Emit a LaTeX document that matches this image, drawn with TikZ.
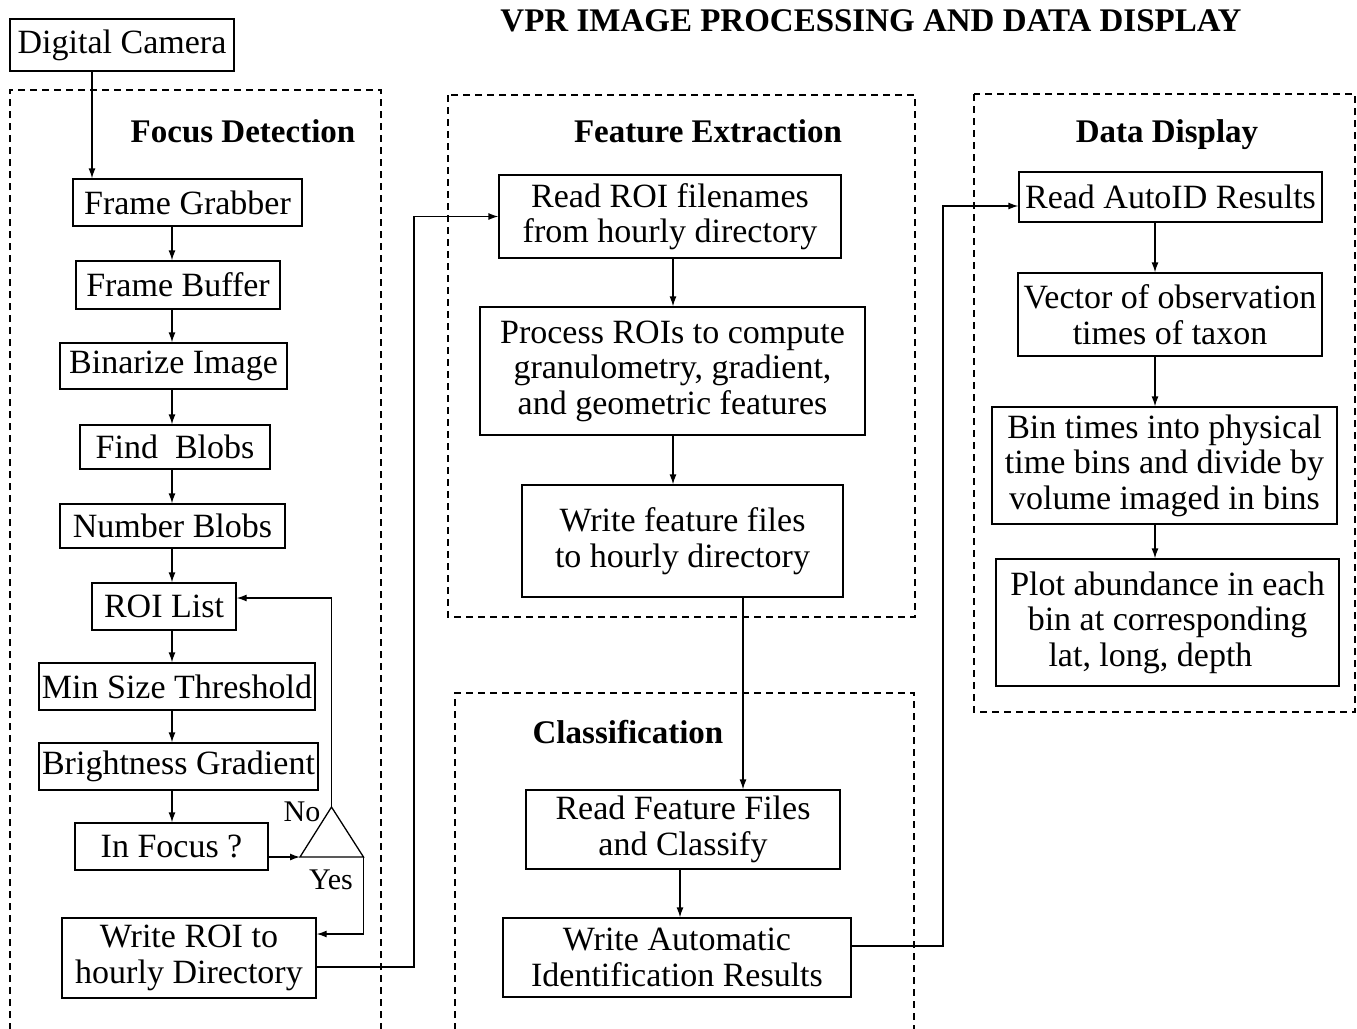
\documentclass[tikz,border=0pt]{standalone}
\usepackage{fontspec}
\setmainfont{Liberation Serif}
\usetikzlibrary{arrows.meta,calc}
\begin{document}
\begin{tikzpicture}[x=1pt,y=-1pt,
  box/.style={draw,line width=1.3pt,inner sep=0pt,align=center,font=\fontsize{34}{35.5}\selectfont},
  head/.style={font=\fontsize{33}{36}\selectfont\bfseries,inner sep=0pt,anchor=base},
  lbl/.style={font=\fontsize{30}{34}\selectfont,inner sep=0pt},
  grp/.style={draw,line width=1.2pt,dash pattern=on 7pt off 5pt},
  arr/.style={line width=1.3pt,-{Latex[length=10pt,width=7pt]}},
  ln/.style={line width=1.3pt}]
\useasboundingbox (0,0) rectangle (1357,1028);
% group frames
\draw[grp] (10,1030) -- (10,90) -- (381,90) -- (381,1030);
\draw[grp] (448,95) rectangle (915,617);
\draw[grp] (455,1030) -- (455,693) -- (914,693) -- (914,1030);
\draw[grp] (974,94) rectangle (1355,712);
% headings
\node[head] (title) at (871,31) {VPR IMAGE PROCESSING AND DATA DISPLAY};
\node[head] (hfd) at (243,142) {Focus Detection};
\node[head] (hfe) at (708,142) {Feature Extraction};
\node[head] (hcl) at (628,743) {Classification};
\node[head] (hdd) at (1167,142) {Data Display};
% left column
\node[box,minimum width=224,minimum height=52] (cam) at (122,45) {Digital Camera};
\node[box,minimum width=229,minimum height=47] (fg) at (187.5,202.5) {Frame Grabber};
\node[box,minimum width=204,minimum height=48] (fb) at (178,285) {Frame Buffer};
\node[box,minimum width=227,minimum height=46] (bin) at (173.5,366) {Binarize Image};
\node[box,minimum width=190,minimum height=44] (find) at (175,447) {Find\ \ Blobs};
\node[box,minimum width=225,minimum height=44] (num) at (172.5,526) {Number Blobs};
\node[box,minimum width=144,minimum height=47] (roi) at (164,606.5) {ROI List};
\node[box,minimum width=276,minimum height=47] (min) at (177,686.5) {Min Size Threshold};
\node[box,minimum width=279,minimum height=47] (bri) at (178.5,766.5) {Brightness Gradient};
\node[box,minimum width=193,minimum height=47] (inf) at (171.5,846.5) {In Focus ?};
\node[box,minimum width=254,minimum height=80] (wroi) at (189,958) {Write ROI to\\hourly Directory};
% decision triangle
\coordinate (tapex) at (331.5,807);
\coordinate (tleft) at (300,857);
\coordinate (tright) at (363.5,857);
\draw[ln] (tleft) -- (tapex) -- (tright) -- cycle;
\node[lbl] (no) at (302,812) {No};
\node[lbl] (yes) at (331,880) {Yes};
% middle column
\node[box,minimum width=342,minimum height=83] (rrf) at (670,216.5) {Read ROI filenames\\from hourly directory};
\node[box,minimum width=385,minimum height=128] (proc) at (672.5,371) {Process ROIs to compute\\granulometry, gradient,\\and geometric features};
\node[box,minimum width=321,minimum height=112] (wff) at (682.5,541) {Write feature files\\to hourly directory};
\node[box,minimum width=314,minimum height=79] (rfc) at (683,829.5) {Read Feature Files\\and Classify};
\node[box,minimum width=348,minimum height=79] (wai) at (677,957.5) {Write Automatic\\Identification Results};
% right column
\node[box,minimum width=303,minimum height=50] (rai) at (1170.5,197) {Read AutoID Results};
\node[box,minimum width=304,minimum height=83] (vec) at (1170,314.5) {Vector of observation\\times of taxon};
\node[box,minimum width=345,minimum height=117] (bint) at (1164.5,465.5) {Bin times into physical\\time bins and divide by\\volume imaged in bins};
\node[box,minimum width=343,minimum height=127] (plot) at (1167.5,622.5) {Plot abundance in each\\bin at corresponding\\lat, long, depth\hspace*{34pt}};
% column coordinates
\coordinate (xc) at (92,0);
\coordinate (xl) at (172,0);
\coordinate (xm) at (673,0);
\coordinate (xw) at (743,0);
\coordinate (xk) at (680,0);
\coordinate (xr) at (1155,0);
\coordinate (j1) at (414,967);
\coordinate (j2) at (943,946);
% left connectors
\draw[arr] (cam.south -| xc) -- (fg.north -| xc);
\draw[arr] (fg.south -| xl) -- (fb.north -| xl);
\draw[arr] (fb.south -| xl) -- (bin.north -| xl);
\draw[arr] (bin.south -| xl) -- (find.north -| xl);
\draw[arr] (find.south -| xl) -- (num.north -| xl);
\draw[arr] (num.south -| xl) -- (roi.north -| xl);
\draw[arr] (roi.south -| xl) -- (min.north -| xl);
\draw[arr] (min.south -| xl) -- (bri.north -| xl);
\draw[arr] (bri.south -| xl) -- (inf.north -| xl);
\draw[arr] (inf.east |- tleft) -- (tleft);
\draw[arr] (tapex) |- (roi.east |- 0,598);
\draw[arr] (tright) |- (wroi.east |- 0,934);
\draw[arr] (wroi.east |- j1) -- (j1) |- (rrf.west);
% middle connectors
\draw[arr] (rrf.south -| xm) -- (proc.north -| xm);
\draw[arr] (proc.south -| xm) -- (wff.north -| xm);
\draw[arr] (wff.south -| xw) -- (rfc.north -| xw);
\draw[arr] (rfc.south -| xk) -- (wai.north -| xk);
\draw[arr] (wai.east |- j2) -- (j2) |- (rai.west |- 0,206);
% right connectors
\draw[arr] (rai.south -| xr) -- (vec.north -| xr);
\draw[arr] (vec.south -| xr) -- (bint.north -| xr);
\draw[arr] (bint.south -| xr) -- (plot.north -| xr);
\end{tikzpicture}
\end{document}
